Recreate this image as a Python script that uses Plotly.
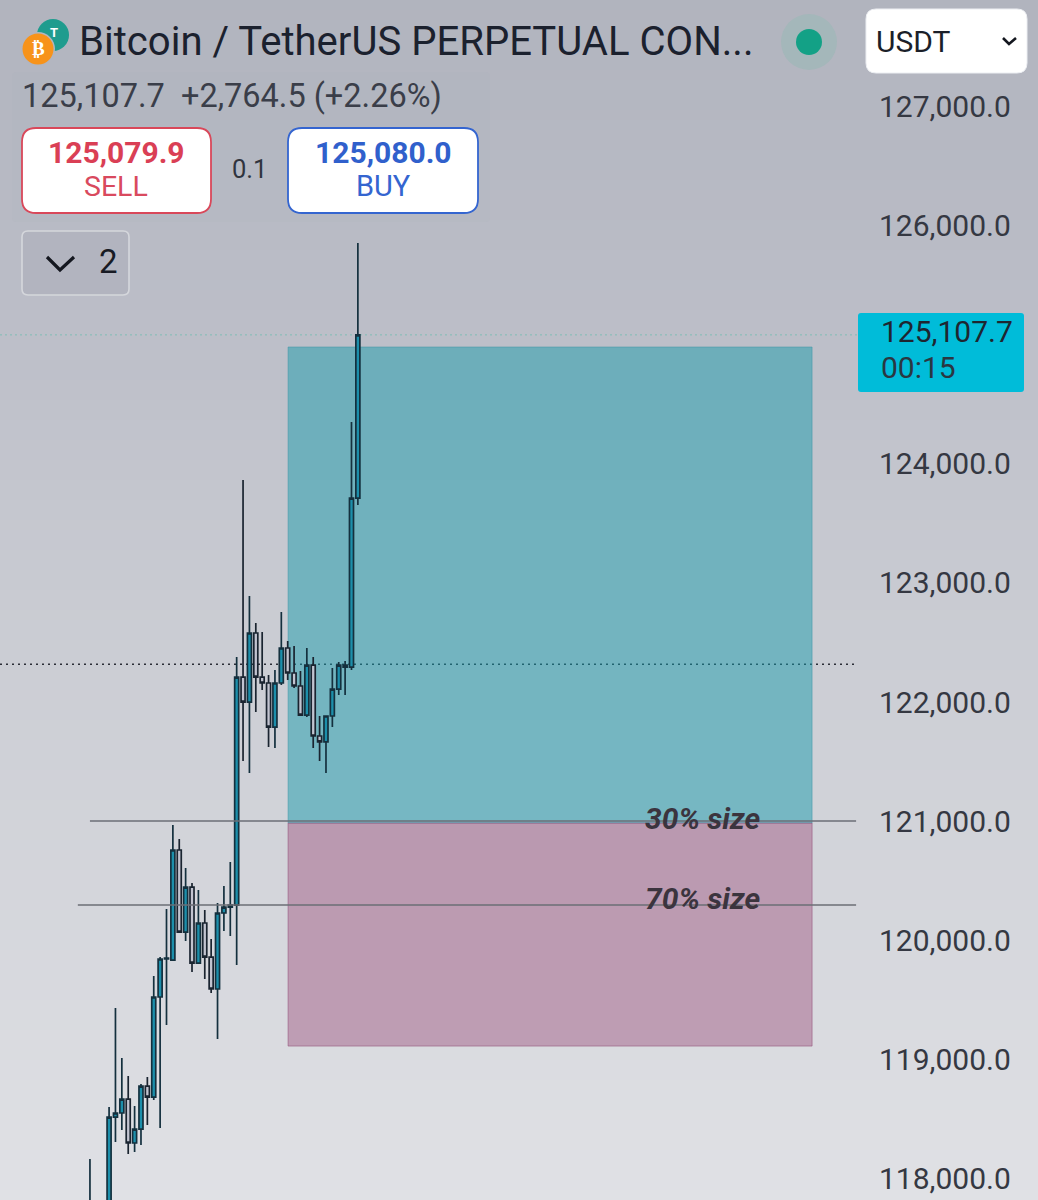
import plotly.graph_objects as go

# Candle series (USDT), one entry per bar
bar = list(range(43))
open_ = [117700, 117790, 117600, 117700, 118541, 118575, 118692, 118323, 118440, 118801, 118709,
         119549, 119868, 119859, 120783, 120094, 120472, 119834, 120170, 119884, 119616, 120254,
         120304, 120321, 122235, 122025, 122605, 122235, 122185, 121815, 122185, 122479, 122269,
         122160, 121916, 122336, 121740, 121690, 121908, 122134, 122319, 122319, 123738]
high = [118189, 117810, 117790, 118625, 119456, 119037, 118885, 118634, 118818, 118877, 119725,
        119884, 120287, 120993, 120875, 120632, 120506, 120447, 120279, 120036, 120338, 120481,
        120682, 122403, 123889, 122915, 122689, 122613, 122252, 122294, 122781, 122537, 122495,
        122286, 122479, 122403, 121908, 121908, 122311, 122361, 122370, 124376, 125879]
low = [117650, 117550, 117500, 117650, 118331, 118432, 118231, 118247, 118306, 118474, 118684,
       118449, 119313, 119859, 120094, 120019, 119759, 119834, 119700, 119582, 119196, 120103,
       120061, 119817, 121530, 121429, 121941, 122126, 121648, 121639, 122168, 122210, 122143,
       121908, 121899, 121639, 121530, 121429, 121815, 122084, 122084, 122294, 123679]
close = [117820, 117600, 117700, 118541, 118575, 118692, 118323, 118440, 118801, 118709, 119549,
         119868, 119876, 120783, 120094, 120472, 119834, 120170, 119884, 119616, 120254, 120304,
         120321, 122235, 122025, 122605, 122235, 122185, 121815, 122185, 122479, 122269, 122160,
         121916, 122336, 121740, 121690, 121908, 122134, 122336, 122336, 123738, 125107.7]

# Price levels
last_price = 125107.7
prev_close = 122343.2
target_top = 125006
entry_level = 121009
stop_level = 119137
size_30_level = 121026
size_70_level = 120321

# Axis tick values
price_ticks = [118000, 119000, 120000, 121000, 122000, 123000, 124000, 126000, 127000]

# Trade-box horizontal extent, in bars
box_start = 31.06
box_end = 113.2
level_end = 120.1

# Page geometry
WIDTH, HEIGHT, AXIS_W = 1038, 1200, 180
PLOT_W = WIDTH - AXIS_W


def X(px):
    return px / PLOT_W


def Y(py):
    return 1 - py / HEIGHT


def rounded(x0, y0, x1, y1, r):
    """SVG path of a rounded rectangle, given in page pixels."""
    pts = [
        f"M{X(x0 + r)},{Y(y0)}", f"L{X(x1 - r)},{Y(y0)}", f"Q{X(x1)},{Y(y0)} {X(x1)},{Y(y0 + r)}",
        f"L{X(x1)},{Y(y1 - r)}", f"Q{X(x1)},{Y(y1)} {X(x1 - r)},{Y(y1)}",
        f"L{X(x0 + r)},{Y(y1)}", f"Q{X(x0)},{Y(y1)} {X(x0)},{Y(y1 - r)}",
        f"L{X(x0)},{Y(y0 + r)}", f"Q{X(x0)},{Y(y0)} {X(x0 + r)},{Y(y0)}", "Z",
    ]
    return "".join(pts)


def polyline(points):
    return "M" + "L".join(f"{X(a)},{Y(b)}" for a, b in points)


def paper_path(path, fill="rgba(0,0,0,0)", line=None, width=0, layer="above"):
    return dict(type="path", path=path, xref="paper", yref="paper", fillcolor=fill,
                line=dict(color=line or "rgba(0,0,0,0)", width=width), layer=layer)


def disc(cx, cy, r, fill):
    return dict(type="circle", xref="paper", yref="paper", x0=X(cx - r), x1=X(cx + r),
                y0=Y(cy + r), y1=Y(cy - r), fillcolor=fill, line=dict(width=0), layer="above")


def label(text, x, y, size, color, anchor="left", bold=False, italic=False):
    if bold:
        text = f"<b>{text}</b>"
    if italic:
        text = f"<i>{text}</i>"
    return dict(text=text, x=X(x), y=Y(y), xref="paper", yref="paper", xanchor=anchor, yanchor="middle",
                showarrow=False, font=dict(family="Roboto", size=size, color=color))


# Vertical page gradient, built from thin bands
stops = [(0, (177, 180, 190)), (300, (187, 189, 199)), (600, (201, 203, 210)), (1200, (224, 225, 229))]


def shade(py):
    for (a, ca), (b, cb) in zip(stops, stops[1:]):
        if py <= b:
            t = (py - a) / (b - a)
            return "rgb(%d,%d,%d)" % tuple(round(u + (v - u) * t) for u, v in zip(ca, cb))
    return "rgb(%d,%d,%d)" % stops[-1][1]


shapes = []
for top in range(0, HEIGHT, 10):
    shapes.append(dict(type="rect", xref="paper", yref="paper", x0=0, x1=WIDTH / PLOT_W,
                       y0=Y(top + 10), y1=Y(top), fillcolor=shade(top + 5), line=dict(width=0), layer="below"))

# Reward and risk zones
shapes += [
    dict(type="rect", xref="x", yref="y", x0=box_start, x1=box_end, y0=entry_level, y1=target_top,
         fillcolor="rgba(25,155,172,0.49)", line=dict(color="rgba(60,150,165,0.5)", width=1), layer="below"),
    dict(type="rect", xref="x", yref="y", x0=box_start, x1=box_end, y0=stop_level, y1=entry_level,
         fillcolor="rgba(160,88,130,0.47)", line=dict(color="rgba(150,85,125,0.6)", width=1), layer="below"),
    # Previous close and last price guides
    dict(type="line", xref="paper", yref="y", x0=0, x1=1, y0=prev_close, y1=prev_close,
         line=dict(color="#2a2d36", width=1.5, dash="2px,4px"), layer="below"),
    dict(type="line", xref="paper", yref="y", x0=0, x1=1, y0=last_price, y1=last_price,
         line=dict(color="#7fbdb6", width=1, dash="2px,3px"), layer="below"),
    # Position size levels
    dict(type="line", xref="x", yref="y", x0=0, x1=level_end, y0=size_30_level, y1=size_30_level,
         line=dict(color="#6b6e76", width=1.5), layer="above"),
    dict(type="line", xref="x", yref="y", x0=-1.9, x1=level_end, y0=size_70_level, y1=size_70_level,
         line=dict(color="#6b6e76", width=1.5), layer="above"),
]

# Header widgets
shapes += [
    paper_path(rounded(12, 72, 490, 222, 4), fill="rgba(170,173,185,0.10)", layer="below"),
    disc(53, 35, 16, "#1f9c8e"),
    disc(38, 49, 17, "#b2b5bf"),
    disc(38, 49, 15.5, "#f7931a"),
    paper_path(rounded(22, 128, 211, 213, 14), fill="#ffffff", line="#d9485a", width=1.8),
    paper_path(rounded(288, 128, 478, 213, 14), fill="#ffffff", line="#3465d0", width=1.8),
    paper_path(rounded(22, 231, 129, 295, 6), fill="#b2b4bf", line="#d5d7dc", width=1.6),
    paper_path(polyline([(47, 257), (60, 270), (74, 257)]), line="#14171f", width=3.2),
    disc(809, 42, 28, "#a4b7ba"),
    disc(809, 42, 13, "#13a186"),
    paper_path(rounded(866, 9, 1027, 73, 10), fill="#ffffff", line="#eceef2", width=1),
    paper_path(polyline([(1003, 38), (1009, 44), (1016, 38)]), line="#14171f", width=2.6),
    paper_path(rounded(858, 313, 1024, 392, 3), fill="#00bcd9"),
]

annotations = [
    label("₿", 38, 49, 19, "#ffffff", anchor="center", bold=True),
    label("T", 54, 33, 13, "#ffffff", anchor="center", bold=True),
    label("Bitcoin / TetherUS PERPETUAL CON...", 76.5, 41, 40.1, "#1b212e"),
    label("125,107.7&nbsp;&nbsp;+2,764.5 (+2.26%)", 19.5, 96, 32.5, "#3a3e49"),
    label("125,079.9", 116.5, 152, 30, "#da3f55", anchor="center", bold=True),
    label("SELL", 116, 186, 28.5, "#d94a5e", anchor="center"),
    label("0.1", 249, 169, 25.5, "#30343e", anchor="center"),
    label("125,080.0", 383, 152, 30, "#3060cc", anchor="center", bold=True),
    label("BUY", 383, 186, 29, "#3465d0", anchor="center"),
    label("2", 108, 262, 33, "#181b24", anchor="center"),
    label("USDT", 874, 41, 30, "#1b1f29"),
    label("125,107.7", 879, 332, 30, "#1e2630"),
    label("00:15", 879, 367, 30, "#2a3742"),
    label("30% size", 643, 818, 30, "#3b343e", bold=True, italic=True),
    label("70% size", 643, 898, 30, "#3b343e", bold=True, italic=True),
]

fig = go.Figure(go.Candlestick(
    x=bar, open=open_, high=high, low=low, close=close,
    increasing=dict(line=dict(color="#14303e", width=1.7), fillcolor="#1c8fab"),
    decreasing=dict(line=dict(color="#1a2430", width=1.7), fillcolor="#c2c4d0"),
    whiskerwidth=0, hoverinfo="skip",
))

fig.update_layout(
    width=WIDTH, height=HEIGHT,
    margin=dict(l=0, r=AXIS_W, t=0, b=0, pad=0),
    paper_bgcolor="#ffffff", plot_bgcolor="rgba(0,0,0,0)",
    showlegend=False, boxgap=0.1,
    shapes=shapes, annotations=annotations,
    xaxis=dict(range=[-14.1, 120.4], visible=False, rangeslider=dict(visible=False), fixedrange=True),
    yaxis=dict(
        range=[117844.6, 127919.3], side="right", showgrid=False, zeroline=False, showline=False,
        tickmode="array", tickvals=price_ticks, ticktext=[f"{t:,.1f}" for t in price_ticks],
        ticks="", ticklabelstandoff=20, ticklabelposition="outside", ticklabelshift=-3,
        tickfont=dict(family="Roboto", size=30, color="#353842"), fixedrange=True,
    ),
)

fig.write_html("out.html", config=dict(displayModeBar=False))
